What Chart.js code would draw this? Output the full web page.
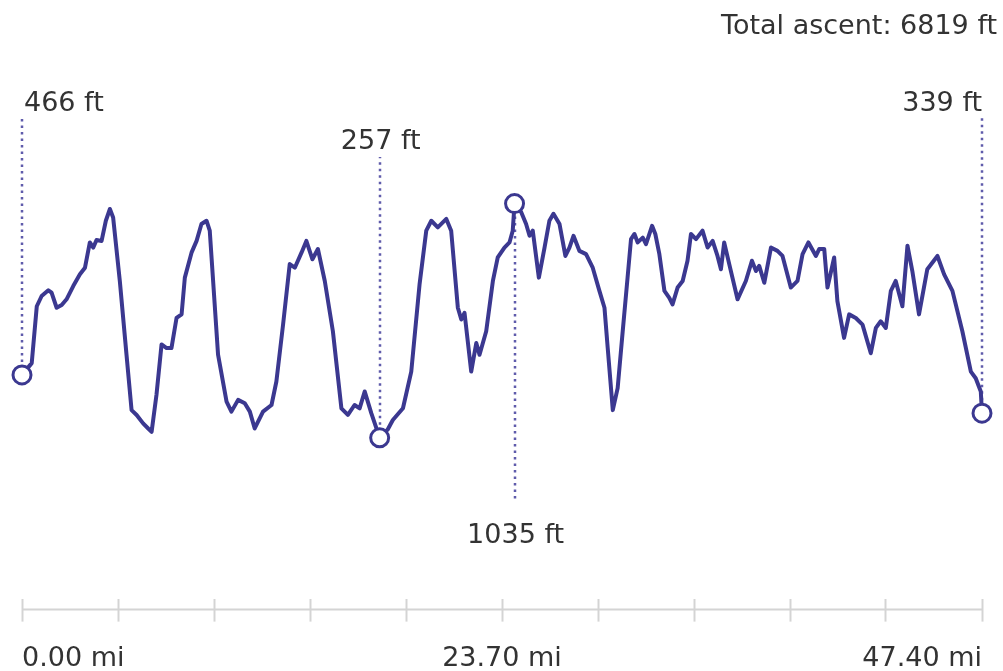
<!DOCTYPE html>
<html>
<head>
<meta charset="utf-8">
<script src="https://cdn.jsdelivr.net/npm/chart.js@4/dist/chart.umd.min.js"></script>
<style>
  html, body { margin: 0; padding: 0; background: #fff; }
  #wrap { width: 1003px; height: 671px; }
</style>
</head>
<body>
<div id="wrap"><canvas id="profile"></canvas></div>
<script>
// distance along the route (mi) and elevation (ft)
const distanceMi = [
  0.00, 0.48, 0.73, 0.97, 1.30, 1.46, 1.71, 1.96, 2.20, 2.53, 2.86, 3.11, 3.35, 3.52, 3.68, 3.93,
  4.14, 4.34, 4.50, 4.83, 5.16, 5.41, 5.66, 5.98, 6.23, 6.40, 6.64, 6.89, 7.14, 7.38, 7.63, 7.88,
  8.04, 8.37, 8.62, 8.86, 9.11, 9.27, 9.68, 10.10, 10.34, 10.67, 11.00, 11.25, 11.49, 11.90, 12.32,
  12.56, 12.89, 13.22, 13.47, 13.80, 14.04, 14.34, 14.61, 14.95, 15.35, 15.77, 16.09, 16.42, 16.67,
  16.92, 17.25, 17.66, 18.05, 18.31, 18.81, 19.22, 19.63, 19.96, 20.21, 20.53, 20.95, 21.19, 21.52,
  21.69, 21.85, 22.18, 22.43, 22.59, 22.92, 23.25, 23.49, 23.82, 24.07, 24.23, 24.32, 24.65, 24.89,
  25.06, 25.22, 25.52, 25.80, 26.04, 26.24, 26.54, 26.83, 27.03, 27.23, 27.52, 27.85, 28.18, 28.51,
  28.76, 28.92, 29.17, 29.41, 29.66, 29.90, 30.07, 30.24, 30.40, 30.65, 30.81, 31.11, 31.27, 31.47,
  31.72, 31.96, 32.12, 32.37, 32.62, 32.86, 33.03, 33.28, 33.60, 33.85, 34.10, 34.34, 34.51, 34.67,
  34.92, 35.33, 35.74, 36.04, 36.24, 36.40, 36.65, 36.98, 37.30, 37.55, 37.96, 38.29, 38.54, 38.83,
  39.20, 39.36, 39.61, 39.77, 40.10, 40.26, 40.59, 40.84, 41.17, 41.50, 41.91, 42.16, 42.40, 42.65,
  42.90, 43.14, 43.47, 43.72, 43.96, 44.29, 44.70, 45.20, 45.53, 45.94, 46.43, 46.85, 47.09, 47.34,
  47.40
];
const elevationFt = [
  466, 505, 694, 728, 747, 739, 689, 698, 717, 761, 800, 822, 906, 889, 914, 911,
  978, 1017, 989, 778, 533, 349, 333, 305, 288, 277, 400, 567, 555, 555, 655, 667,
  789, 872, 911, 967, 978, 945, 533, 377, 344, 383, 372, 344, 288, 344, 366,
  444, 633, 834, 822, 872, 911, 850, 884, 778, 611, 355, 333, 366, 355,
  411, 338, 257, 284, 316, 355, 477, 767, 945, 978, 956, 984, 945, 689,
  650, 672, 477, 572, 533, 611, 778, 856, 889, 906, 945, 1035, 1006, 967,
  928, 945, 789, 889, 978, 1001, 967, 861, 889, 928, 878, 867, 822, 745,
  689, 555, 349, 422, 611, 789, 917, 934, 906, 922, 900, 961, 934, 867,
  745, 722, 700, 756, 778, 845, 934, 917, 945, 889, 911, 861, 817, 906,
  834, 717, 778, 845, 811, 828, 772, 889, 878, 861, 756, 778, 867, 906,
  861, 884, 884, 756, 856, 711, 589, 667, 655, 633, 538, 622, 644, 622,
  745, 778, 694, 895, 811, 667, 817, 861, 800, 745, 611, 477, 455, 411,
  339
];
const tickValues = [0, 4.74, 9.48, 14.22, 18.96, 23.70, 28.44, 33.18, 37.92, 42.66, 47.40];
const tickLabels = ['0.00 mi', '', '', '', '', '23.70 mi', '', '', '', '', '47.40 mi'];
const totalAscentFt = 6819;

const lineColor = '#3b3890';
const dotColor = '#5f5bab';
const textColor = '#333333';
const axisColor = '#d4d4d4';
const fontFamily = '"DejaVu Sans", "Noto Sans", sans-serif';

const profile = distanceMi.map((d, i) => ({ x: d, y: elevationFt[i] }));

// start, lowest, highest and end point of the route
const minIdx = elevationFt.indexOf(Math.min(...elevationFt));
const maxIdx = elevationFt.indexOf(Math.max(...elevationFt));
const lastIdx = elevationFt.length - 1;
const keyPoints = [0, minIdx, maxIdx, lastIdx].map(i => profile[i]);

// where each key point's label sits (pixels) and how it is aligned
const noteStyles = [
  { labelY: 104, lineEnd: 116, align: 'left', dx: 2 },
  { labelY: 142, lineEnd: 157, align: 'center', dx: 1 },
  { labelY: 536, lineEnd: 502, align: 'center', dx: 1 },
  { labelY: 104, lineEnd: 116, align: 'right', dx: 0 }
];

const notesPlugin = {
  id: 'profileNotes',
  beforeDatasetsDraw(chart) {
    const { ctx, chartArea, scales: { x, y } } = chart;
    ctx.save();
    // axis line running through the tick marks
    ctx.strokeStyle = axisColor;
    ctx.lineWidth = 2;
    ctx.beginPath();
    ctx.moveTo(x.left, chartArea.bottom + 11);
    ctx.lineTo(x.right, chartArea.bottom + 11);
    ctx.stroke();
    // dotted drop lines
    ctx.strokeStyle = dotColor;
    ctx.lineWidth = 2.5;
    ctx.setLineDash([2.5, 4]);
    keyPoints.forEach((p, i) => {
      const px = Math.round(x.getPixelForValue(p.x));
      const py = y.getPixelForValue(p.y);
      ctx.beginPath();
      ctx.moveTo(px, py);
      ctx.lineTo(px, noteStyles[i].lineEnd);
      ctx.stroke();
    });
    ctx.restore();
  },
  afterDraw(chart) {
    const { ctx, scales: { x } } = chart;
    ctx.save();
    ctx.fillStyle = textColor;
    ctx.font = '27px ' + fontFamily;
    ctx.textBaseline = 'middle';
    keyPoints.forEach((p, i) => {
      const s = noteStyles[i];
      ctx.textAlign = s.align;
      ctx.fillText(p.y + ' ft', x.getPixelForValue(p.x) + s.dx, s.labelY);
    });
    ctx.textAlign = 'right';
    ctx.fillText('Total ascent: ' + totalAscentFt + ' ft', 997, 27);
    ctx.restore();
  }
};

new Chart(document.getElementById('profile'), {
  type: 'line',
  data: {
    datasets: [
      {
        data: keyPoints,
        showLine: false,
        clip: false,
        pointRadius: 9,
        pointBorderWidth: 3,
        pointBackgroundColor: '#ffffff',
        pointBorderColor: lineColor,
        order: 0
      },
      {
        data: profile,
        clip: false,
        borderColor: lineColor,
        borderWidth: 4,
        borderJoinStyle: 'round',
        pointRadius: 0,
        tension: 0,
        fill: false,
        order: 1
      }
    ]
  },
  options: {
    responsive: true,
    maintainAspectRatio: false,
    animation: false,
    events: [],
    layout: {
      autoPadding: false,
      padding: { top: 100, left: 22, right: 20, bottom: -25 }
    },
    plugins: {
      legend: { display: false },
      tooltip: { enabled: false }
    },
    scales: {
      x: {
        type: 'linear',
        min: 0,
        max: 47.4,
        afterBuildTicks: scale => {
          scale.ticks = tickValues.map(v => ({ value: v }));
        },
        border: { display: false },
        grid: {
          drawOnChartArea: false,
          drawTicks: true,
          tickLength: 23,
          tickWidth: 2,
          tickColor: axisColor
        },
        ticks: {
          autoSkip: false,
          maxRotation: 0,
          align: 'inner',
          padding: 21,
          color: textColor,
          font: { family: fontFamily, size: 27, lineHeight: 1.2 },
          callback: (v, i) => tickLabels[i]
        }
      },
      y: {
        display: false,
        min: -277,
        max: 1379
      }
    }
  },
  plugins: [notesPlugin]
});
</script>
</body>
</html>
